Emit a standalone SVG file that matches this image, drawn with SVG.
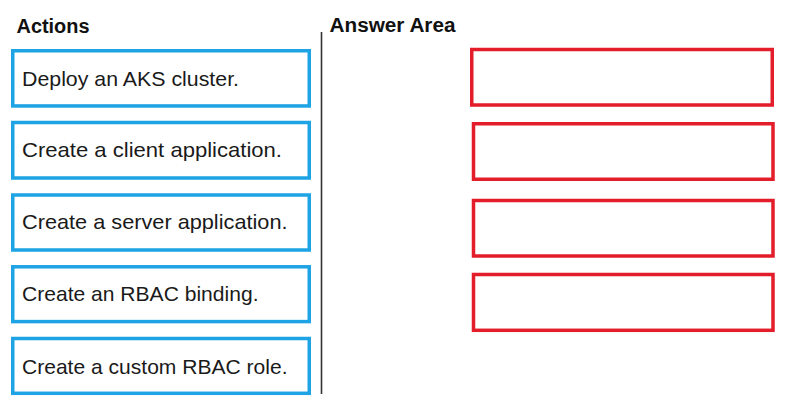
<svg xmlns="http://www.w3.org/2000/svg" width="787" height="408" viewBox="0 0 787 408">
<style>
.title{font-family:"Liberation Sans",Arial,sans-serif;font-weight:bold;font-size:20px;fill:#111}
.lbl{font-family:"Liberation Sans",Arial,sans-serif;font-size:21px;fill:#1a1a1a}
.act{fill:#fff;stroke:#1ea3e4;stroke-width:3.5}
.ans{fill:#fff;stroke:#e31e2a;stroke-width:3.5}
</style>
<rect width="787" height="408" fill="#fff"/>
<text class="title" x="16.5" y="33" textLength="73" lengthAdjust="spacingAndGlyphs">Actions</text>
<text class="title" x="329.5" y="32" textLength="126" lengthAdjust="spacingAndGlyphs">Answer Area</text>
<g id="connectors">
<line x1="321.5" y1="32" x2="321.5" y2="394" stroke="#333" stroke-width="1.6"/>
</g>
<g id="action1"><rect class="act" x="12.75" y="50.75" width="296.5" height="55.2"/><text class="lbl" x="22" y="86" textLength="217" lengthAdjust="spacingAndGlyphs">Deploy an AKS cluster.</text></g>
<g id="action2"><rect class="act" x="12.75" y="122.5" width="296.5" height="55.5"/><text class="lbl" x="22" y="157" textLength="260" lengthAdjust="spacingAndGlyphs">Create a client application.</text></g>
<g id="action3"><rect class="act" x="12.75" y="195" width="296.5" height="55"/><text class="lbl" x="22" y="229" textLength="265.5" lengthAdjust="spacingAndGlyphs">Create a server application.</text></g>
<g id="action4"><rect class="act" x="12.75" y="266.8" width="296.5" height="54.8"/><text class="lbl" x="22" y="301" textLength="236.5" lengthAdjust="spacingAndGlyphs">Create an RBAC binding.</text></g>
<g id="action5"><rect class="act" x="12.75" y="338.5" width="296.5" height="54.8"/><text class="lbl" x="22" y="373.5" textLength="265.5" lengthAdjust="spacingAndGlyphs">Create a custom RBAC role.</text></g>
<g id="answer1"><rect class="ans" x="471.75" y="49.5" width="300.5" height="55.5"/></g>
<g id="answer2"><rect class="ans" x="473.5" y="123.75" width="299.5" height="55.5"/></g>
<g id="answer3"><rect class="ans" x="473.5" y="200.5" width="299.5" height="55.5"/></g>
<g id="answer4"><rect class="ans" x="473.5" y="274.5" width="299.5" height="55.8"/></g>
</svg>
